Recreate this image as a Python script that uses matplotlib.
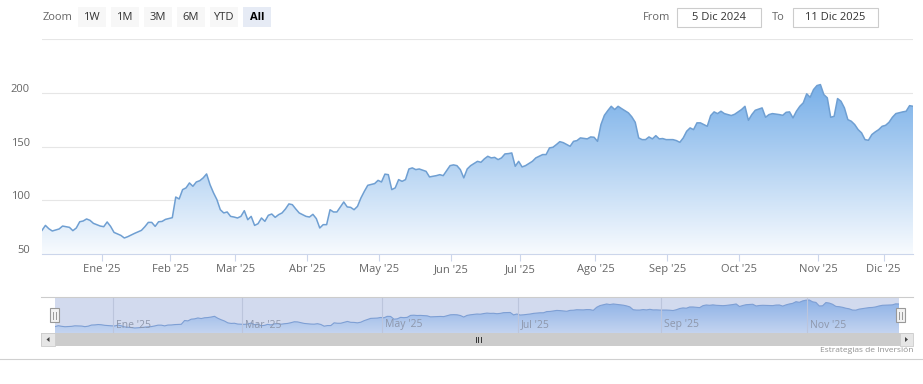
import numpy as np
import pandas as pd
import matplotlib
matplotlib.use('Agg')
import matplotlib.pyplot as plt
from matplotlib.patches import Rectangle, Polygon

plt.rcParams['font.family'] = ['Open Sans', 'DejaVu Sans']

# ---------------- data ----------------
start_date = '2024-12-05'
end_date = '2025-12-11'
market_holidays = ['2024-12-25', '2025-01-01', '2025-01-09', '2025-01-20', '2025-02-17',
                   '2025-04-18', '2025-05-26', '2025-06-19', '2025-07-04', '2025-09-01',
                   '2025-11-27']

# trading-session number (0 = 5 Dic 2024) and closing price
sessions = [0, 1, 2, 3, 5, 6, 8, 9, 10, 11, 12, 13, 14, 15, 17, 18, 19, 20, 21, 23,
            24, 25, 27, 29, 30, 31, 32, 33, 34, 35, 36, 38, 39, 40, 41, 42, 43, 44, 45, 46,
            47, 48, 49, 50, 51, 52, 53, 54, 55, 56, 57, 58, 59, 60, 61, 62, 63, 64, 65, 66,
            67, 68, 69, 70, 71, 72, 73, 74, 75, 77, 78, 79, 80, 81, 82, 83, 84, 85, 86, 87,
            88, 89, 90, 91, 92, 93, 94, 95, 97, 98, 99, 100, 101, 102, 103, 104, 105, 106, 107, 108,
            109, 110, 112, 113, 115, 116, 117, 119, 120, 121, 122, 123, 124, 125, 127, 128, 129, 130, 131, 132,
            133, 134, 135, 136, 137, 138, 139, 140, 141, 143, 144, 145, 146, 147, 148, 149, 150, 151, 152, 154,
            155, 156, 157, 159, 160, 161, 162, 163, 164, 165, 166, 167, 168, 169, 171, 172, 173, 174, 175, 176,
            177, 178, 179, 180, 181, 182, 184, 185, 186, 187, 188, 189, 190, 191, 192, 193, 194, 195, 196, 197,
            198, 199, 201, 202, 204, 205, 206, 207, 208, 210, 211, 212, 213, 215, 216, 217, 218, 219, 220, 221,
            222, 223, 224, 225, 226, 227, 228, 229, 230, 231, 232, 233, 234, 235, 236, 237, 238, 239, 240, 241,
            242, 243, 244, 245, 246, 247, 248, 249, 251, 252, 253, 254]
prices = [72, 76.6, 73.5, 71.4, 73.3, 76, 74.8, 71.7, 74.2, 80, 80.7, 82.6, 81.3, 78.5, 76, 75.4, 79.8, 75.7, 70.1, 67.3,
          64.9, 66.1, 69.2, 72, 75.4, 79.4, 79.4, 75.7, 80, 80.3, 82.2, 83.8, 103, 101.2, 109.9, 111.5, 116.1, 113, 117, 118.2,
          120.8, 124.5, 114.5, 107, 100.6, 91.2, 88.2, 89.1, 85, 84.4, 83.5, 85, 90.3, 81.9, 85, 76.6, 78.2, 83.5, 80.4, 86,
          87.2, 84.1, 86.6, 88.2, 91.9, 96.6, 95.9, 91.9, 88.2, 85, 84.4, 86.9, 82.9, 74.2, 77.3, 77.3, 91.2, 89.1, 89.1, 93.8,
          98.4, 93.8, 93.4, 91.2, 94.3, 102.1, 108.3, 113.9, 115.5, 118.5, 117, 124.3, 123.8, 109.9, 111.5, 119.2, 117.6, 119.2, 129.1, 130.1,
          128.5, 129.1, 126.9, 121.7, 122.9, 123.8, 122.9, 132.2, 132.9, 132.2, 128.5, 120.8, 129.1, 132.2, 136.2, 135.3, 138.5, 140.9, 139.4, 139.9,
          137.8, 139.4, 143.1, 143.4, 144, 131.6, 136.2, 131, 132.2, 136.2, 139.4, 140.9, 142.5, 142.5, 148.7, 149.3, 151.8, 154.5, 153.6, 150.2,
          154.8, 155.5, 158, 157.1, 158.9, 158.6, 154.8, 170.4, 179, 183.4, 187.4, 184.4, 187.4, 185.3, 181.3, 177.6, 172.5, 158, 156.4, 156.4,
          158.9, 157.1, 160.1, 157.1, 157.4, 156.4, 156.4, 155.5, 153.9, 158, 164.2, 167.3, 165.7, 172, 172, 170.4, 168.8, 178.8, 182.2, 180.6,
          182.8, 180.6, 178.8, 180, 184.4, 187.4, 174.4, 179.7, 183.7, 185.9, 177.2, 179.7, 180.6, 179.7, 179, 181.8, 182.2, 176.6, 182.8, 187.4,
          190.6, 199, 195.8, 203, 206.7, 207.6, 198.3, 195.3, 177.2, 178.1, 194.6, 192.1, 185.9, 175, 173.5, 170.4, 165.7, 162.7, 156.4, 155.8,
          161.1, 163.6, 165.7, 168.8, 169.7, 172.5, 177.2, 180.6, 182.2, 182.8, 188, 187.4]

month_labels = ["Ene '25", "Feb '25", "Mar '25", "Abr '25", "May '25", "Jun '25",
                "Jul '25", "Ago '25", "Sep '25", "Oct '25", "Nov '25", "Dic '25"]
y_labels = [50, 100, 150, 200]
y_grid = [50, 100, 150, 200, 250]
zoom_buttons = ['1W', '1M', '3M', '6M', 'YTD', 'All']
selected_button = 'All'
range_from = '5 Dic 2024'
range_to = '11 Dic 2025'
credit_text = 'Estrategias de Inversión'

# ---------------- helpers ----------------
W, H = 923, 384
days = pd.bdate_range(start_date, end_date)
days = days[~days.isin(pd.to_datetime(market_holidays))]
n_last = len(days) - 1
month_starts = pd.date_range('2025-01-01', '2025-12-01', freq='MS')
month_pos = [days.searchsorted(m) - 0.6 for m in month_starts]

x = np.array(sessions, dtype=float)
y = np.array(prices, dtype=float)


def rect(l, t, w, h):
    return [l / W, 1 - (t + h) / H, w / W, h / H]


def gradient_fill(ax, xs, ys, base, top_val, lo, hi, c_top, c_bot, zorder=2):
    poly = ax.fill_between(xs, ys, base, color='none', lw=0)
    n = 256
    vals = np.linspace(hi, lo, n)
    t = np.clip((vals - lo) / (top_val - lo), 0, 1)[:, None]
    c_top = np.array(c_top) / 255.0
    c_bot = np.array(c_bot) / 255.0
    cols = c_bot * (1 - t) + c_top * t
    img = np.concatenate([cols, np.ones((n, 1))], axis=1)[:, None, :]
    im = ax.imshow(img, extent=[xs.min(), xs.max(), lo, hi], aspect='auto',
                   origin='upper', zorder=zorder, interpolation='bilinear')
    im.set_clip_path(poly.get_paths()[0], ax.transData)


fig = plt.figure(figsize=(W / 100, H / 100), dpi=100)
fig.patch.set_facecolor('white')

# ---------------- main chart ----------------
ax = fig.add_axes(rect(42, 39, 871, 215))
ax.set_facecolor('white')
gradient_fill(ax, x, y, 50, 210, 50, 250, (118, 174, 232), (248, 251, 254))
ax.plot(x, y, color='#6f9fd2', lw=1.1, solid_joinstyle='round', zorder=3)
for v in y_grid:
    ax.axhline(v, color='#e6e6e6', lw=0.8, zorder=1)
ax.set_xlim(0, n_last)
ax.set_ylim(50, 250)
for s in ['top', 'left', 'right']:
    ax.spines[s].set_visible(False)
ax.spines['bottom'].set_color('#ccd6eb')
ax.spines['bottom'].set_linewidth(0.8)
ax.spines['bottom'].set_zorder(4)
ax.set_xticks(month_pos)
ax.set_xticklabels(month_labels)
ax.tick_params(axis='x', length=5, width=0.8, color='#ccd6eb', labelcolor='#666666',
               labelsize=8, pad=2.5)
ax.set_yticks([])
for v in y_labels:
    ax.annotate(str(v), xy=(0, v), xycoords=('axes fraction', 'data'),
                xytext=(-12, 3.5), textcoords='offset pixels', ha='right', va='center',
                fontsize=8, color='#666666')

# ---------------- navigator ----------------
nav = fig.add_axes(rect(55, 297, 844, 36))
nav.set_facecolor('#d2daee')
gradient_fill(nav, x, y, 39.4, 215, 39.4, 222.9, (138, 176, 230), (196, 212, 240))
nav.plot(x, y, color='#7e9fd4', lw=0.8, zorder=3)
nav.set_xlim(0, n_last)
nav.set_ylim(39.4, 222.9)
for s in nav.spines.values():
    s.set_visible(False)
nav.set_xticks([])
nav.set_yticks([])
for pos, lab in list(zip(month_pos, month_labels))[::2]:
    nav.axvline(pos, color='#bcc5dc', lw=0.8, zorder=4)
    nav.annotate(lab, xy=(pos, 0), xycoords=('data', 'axes fraction'),
                 xytext=(3, 8), textcoords='offset pixels', ha='left', va='center',
                 fontsize=7.5, color='#8e97ab', zorder=5)

# ---------------- UI overlay ----------------
ui = fig.add_axes([0, 0, 1, 1], zorder=10)
ui.set_xlim(0, W)
ui.set_ylim(H, 0)
ui.axis('off')
ui.patch.set_visible(False)

# range selector
ui.text(43, 17, 'Zoom', ha='left', va='center', fontsize=8, color='#666666')
for i, lab in enumerate(zoom_buttons):
    bx = 78 + 33 * i
    sel = lab == selected_button
    ui.add_patch(Rectangle((bx, 7), 27.5, 19.5, facecolor='#e6ebf5' if sel else '#f7f7f7',
                           edgecolor='none'))
    ui.text(bx + 13.75, 17, lab, ha='center', va='center', fontsize=8,
            color='#000000' if sel else '#333333', fontweight='bold' if sel else 'normal')

ui.text(643, 17.5, 'From', ha='left', va='center', fontsize=8, color='#666666')
ui.add_patch(Rectangle((677, 8), 84, 19, facecolor='white', edgecolor='#cccccc', lw=0.8))
ui.text(719, 17.5, range_from, ha='center', va='center', fontsize=8, color='#333333')
ui.text(772, 17.5, 'To', ha='left', va='center', fontsize=8, color='#666666')
ui.add_patch(Rectangle((793, 8), 85, 19, facecolor='white', edgecolor='#cccccc', lw=0.8))
ui.text(835.5, 17.5, range_to, ha='center', va='center', fontsize=8, color='#333333')

# navigator outline
ui.plot([41, 913], [297, 297], color='#cccccc', lw=0.8)

# handles
for hx in (54.7, 900.5):
    ui.add_patch(Rectangle((hx - 4.5, 308), 9, 14, facecolor='#f2f2f2', edgecolor='#999999', lw=0.8))
    for dx in (-1.3, 1.3):
        ui.plot([hx + dx, hx + dx], [311.5, 318.5], color='#999999', lw=0.7)

# scrollbar
ui.add_patch(Rectangle((41, 333), 872, 13, facecolor='#cccccc', edgecolor='none'))
ui.add_patch(Rectangle((41, 333), 13.5, 13, facecolor='#e6e6e6', edgecolor='#cccccc', lw=0.6))
ui.add_patch(Rectangle((899.5, 333), 13.5, 13, facecolor='#e6e6e6', edgecolor='#cccccc', lw=0.6))
ui.add_patch(Polygon([[46.5, 339.5], [49.5, 337], [49.5, 342]], closed=True, facecolor='#444444', edgecolor='none'))
ui.add_patch(Polygon([[908, 339.5], [905, 337], [905, 342]], closed=True, facecolor='#444444', edgecolor='none'))
for gx in (475.5, 478, 480.5):
    ui.plot([gx, gx], [336.5, 341.5], color='#333333', lw=0.7)

# footer
ui.plot([0, W], [359, 359], color='#d0d0d0', lw=0.8)
ui.text(913, 351, credit_text, ha='right', va='center', fontsize=6.0, color='#909090')

fig.savefig('out.png', dpi=100, facecolor='white')
